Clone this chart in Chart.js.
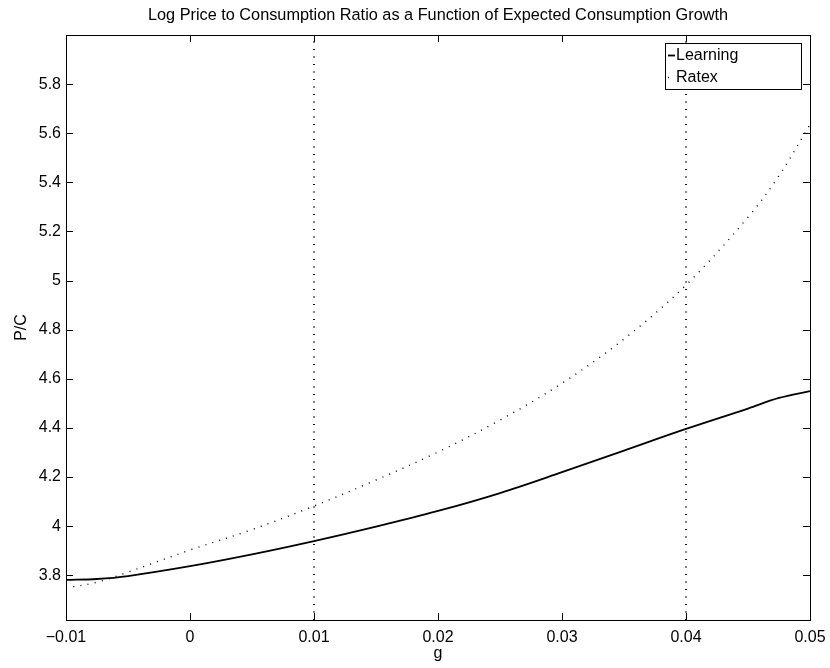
<!DOCTYPE html>
<html>
<head>
<meta charset="utf-8">
<script src="https://cdn.jsdelivr.net/npm/chart.js@4"></script>
<style>
  html, body { margin: 0; padding: 0; background: #fff; }
</style>
</head>
<body>
<canvas id="chart" width="830" height="668"></canvas>
<script>
// values
const chartTitle = 'Log Price to Consumption Ratio as a Function of Expected Consumption Growth';
const gValues  = [-0.01, -0.0075, -0.005, 0, 0.005, 0.01, 0.015, 0.02, 0.025, 0.03, 0.035, 0.04, 0.045, 0.0475, 0.05];
const learning = [3.781, 3.785, 3.797, 3.837, 3.885, 3.939, 3.998, 4.062, 4.135, 4.220, 4.308, 4.396, 4.479, 4.522, 4.550];
const ratex    = [3.748, 3.772, 3.813, 3.903, 3.986, 4.082, 4.188, 4.302, 4.432, 4.582, 4.762, 4.982, 5.258, 5.427, 5.635];
const markerLines = [0.01, 0.04];
const xTicks = [-0.01, 0, 0.01, 0.02, 0.03, 0.04, 0.05];
const xTickLabels = ['\u22120.01', '0', '0.01', '0.02', '0.03', '0.04', '0.05'];
const yTicks = [3.8, 4, 4.2, 4.4, 4.6, 4.8, 5, 5.2, 5.4, 5.6, 5.8];
const yTickLabels = ['3.8', '4', '4.2', '4.4', '4.6', '4.8', '5', '5.2', '5.4', '5.6', '5.8'];
const yRange = [3.618, 6.0];
const xRange = [-0.01, 0.05];

const FONT = "'Liberation Sans', Arial, Helvetica, sans-serif";
Chart.defaults.font.family = FONT;
Chart.defaults.font.size = 16;
Chart.defaults.color = '#000';

const toPoints = (ys) => gValues.map((g, i) => ({x: g, y: ys[i]}));

const datasets = [
  {label: 'Learning', data: toPoints(learning), borderColor: '#000', borderWidth: 1.8,
   pointRadius: 0, tension: 0.35, showLine: true},
  {label: 'Ratex', data: toPoints(ratex), borderColor: '#000', borderWidth: 1.4, borderDash: [1, 6.3],
   pointRadius: 0, tension: 0.35, showLine: true}
];
markerLines.forEach(g => datasets.push({
  label: '', marker: true,
  data: [{x: g, y: yRange[0]}, {x: g, y: yRange[1]}],
  borderColor: '#111', borderWidth: 2, borderDash: [1, 6.5], pointRadius: 0, showLine: true
}));

// title over the axes, box, inward ticks on all four sides, MATLAB style legend
const framePlugin = {
  id: 'frame',
  afterDraw(chart) {
    const {ctx, chartArea: a, scales} = chart;
    ctx.save();
    ctx.fillStyle = '#000';
    ctx.font = '16.3px ' + FONT;
    ctx.textAlign = 'center';
    ctx.textBaseline = 'middle';
    ctx.fillText(chartTitle, (a.left + a.right) / 2, 15.5);

    ctx.strokeStyle = '#000';
    ctx.lineWidth = 1;
    ctx.strokeRect(Math.round(a.left) + 0.5, Math.round(a.top) + 0.5,
                   Math.round(a.right - a.left), Math.round(a.bottom - a.top));
    const tl = 7;
    ctx.beginPath();
    scales.x.ticks.forEach(t => {
      const px = Math.round(scales.x.getPixelForValue(t.value)) + 0.5;
      ctx.moveTo(px, a.bottom); ctx.lineTo(px, a.bottom - tl);
      ctx.moveTo(px, a.top); ctx.lineTo(px, a.top + tl);
    });
    scales.y.ticks.forEach(t => {
      const py = Math.round(scales.y.getPixelForValue(t.value)) + 0.5;
      ctx.moveTo(a.left, py); ctx.lineTo(a.left + tl, py);
      ctx.moveTo(a.right, py); ctx.lineTo(a.right - tl, py);
    });
    ctx.stroke();

    // legend
    const items = chart.data.datasets.filter(d => !d.marker);
    const bx = Math.round(a.right) - 145, by = Math.round(a.top) + 8, bw = 136, bh = 46;
    ctx.fillStyle = '#fff';
    ctx.fillRect(bx, by, bw, bh);
    ctx.strokeRect(bx + 0.5, by + 0.5, bw, bh);
    ctx.font = '16px ' + FONT;
    ctx.textAlign = 'left';
    items.forEach((d, i) => {
      const y = Math.round(by + 12 + i * 22) + 0.5;
      ctx.beginPath();
      ctx.setLineDash(d.borderDash || []);
      ctx.lineWidth = d.borderWidth;
      ctx.strokeStyle = d.borderColor;
      ctx.moveTo(bx + 3, y); ctx.lineTo(bx + 10, y);
      ctx.stroke();
      ctx.setLineDash([]);
      ctx.fillStyle = '#000';
      ctx.fillText(d.label, bx + 11, y);
    });
    ctx.restore();
  }
};

new Chart(document.getElementById('chart'), {
  type: 'scatter',
  data: {datasets},
  options: {
    responsive: false,
    animation: false,
    devicePixelRatio: 1,
    layout: {padding: {left: 0, right: 20, top: 35, bottom: 0}},
    plugins: {
      legend: {display: false},
      tooltip: {enabled: false},
      title: {display: false}
    },
    scales: {
      x: {
        type: 'linear', min: xRange[0], max: xRange[1],
        afterBuildTicks: s => { s.ticks = xTicks.map(v => ({value: v})); },
        afterFit: s => { s.height = 48; s.paddingLeft = 0; s.paddingRight = 0; },
        grid: {display: false, drawTicks: false},
        border: {display: false},
        ticks: {padding: 8, maxRotation: 0, autoSkip: false,
                callback: v => xTickLabels[xTicks.indexOf(v)]},
        title: {display: true, text: 'g', font: {size: 16}, padding: {top: 0, bottom: 4.4}}
      },
      y: {
        type: 'linear', min: yRange[0], max: yRange[1],
        afterBuildTicks: s => { s.ticks = yTicks.map(v => ({value: v})); },
        afterFit: s => { s.width = 66; },
        grid: {display: false, drawTicks: false},
        border: {display: false},
        ticks: {padding: 5, autoSkip: false,
                callback: v => yTickLabels[yTicks.indexOf(v)]},
        title: {display: true, text: 'P/C', font: {size: 16}, padding: {top: 12, bottom: 0}}
      }
    }
  },
  plugins: [framePlugin]
});
</script>
</body>
</html>
